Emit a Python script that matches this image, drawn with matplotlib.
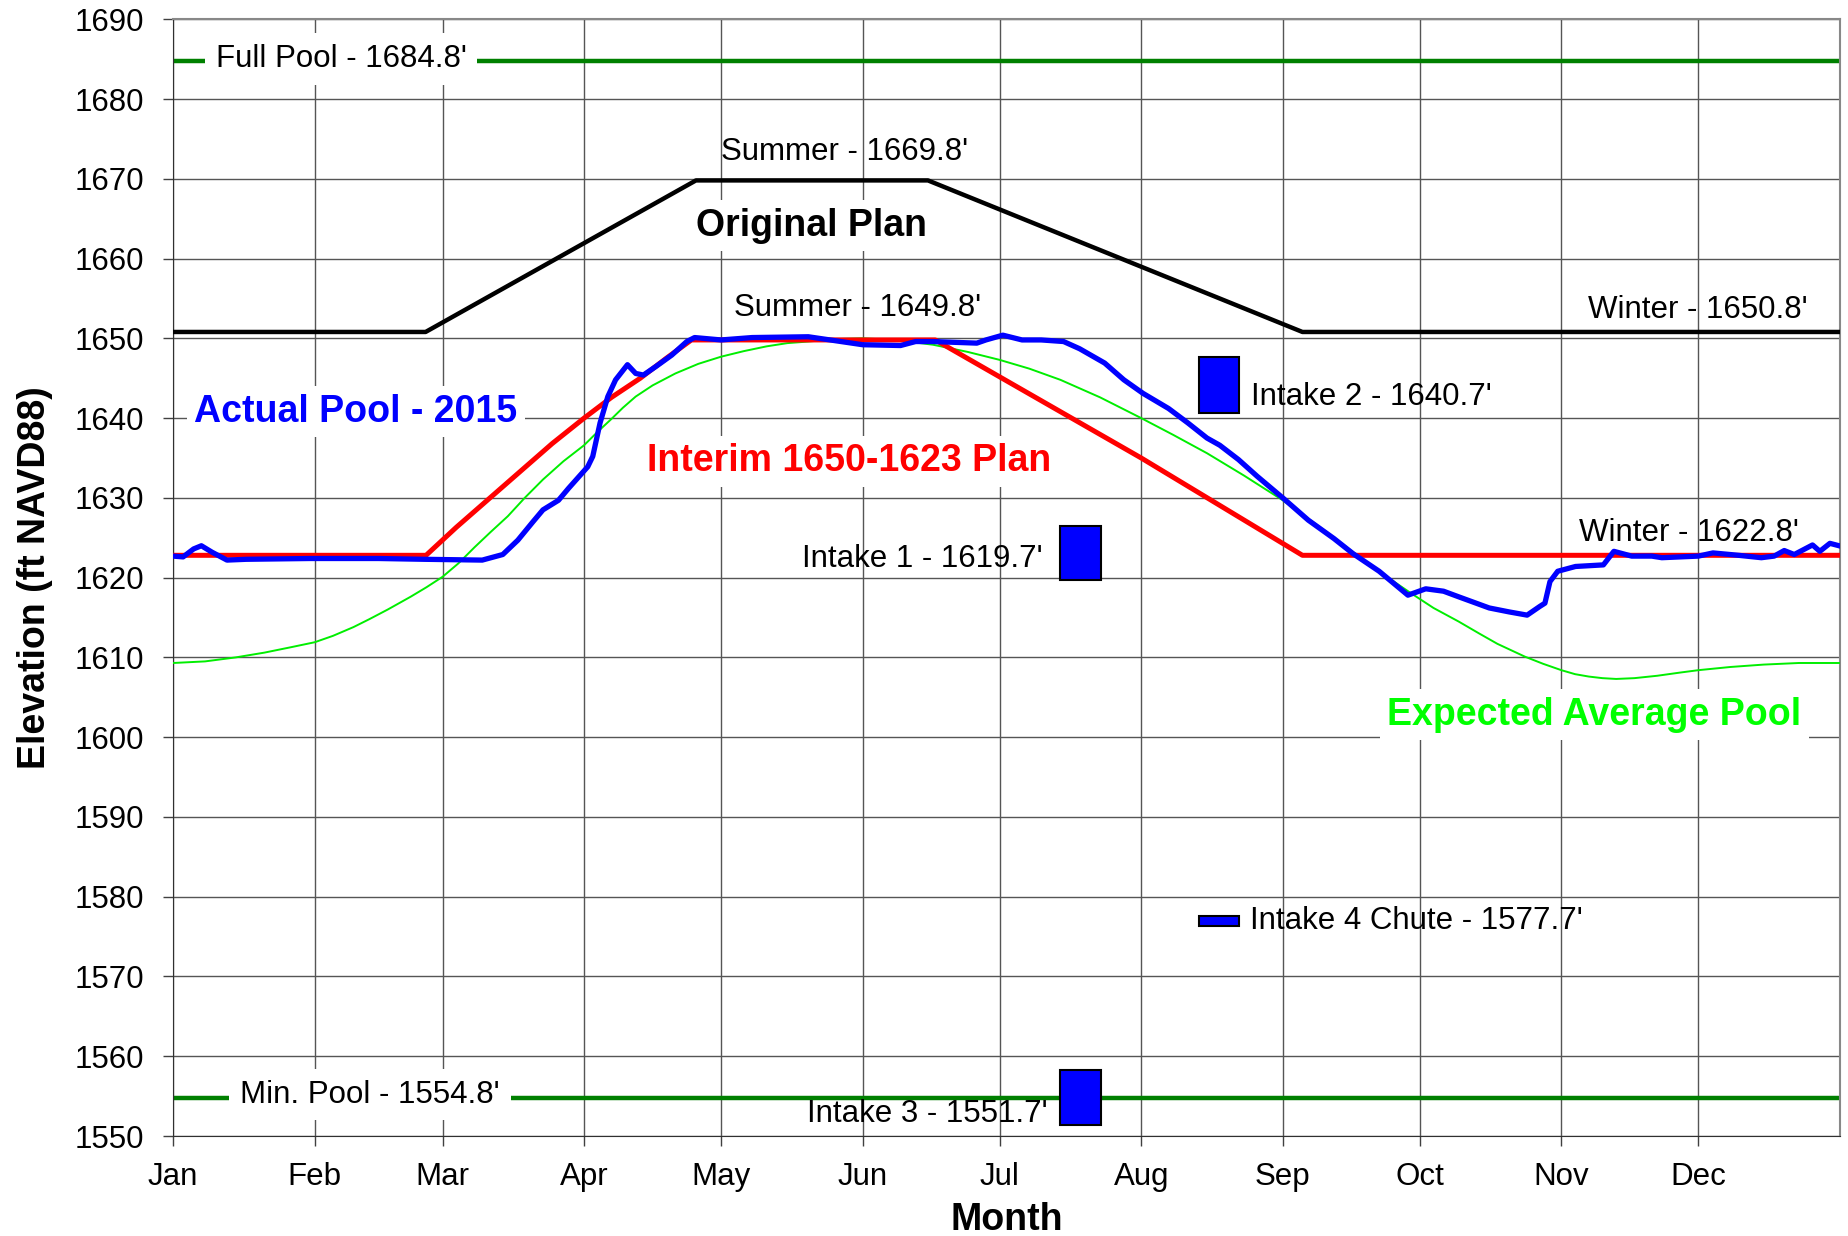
import matplotlib
matplotlib.use("Agg")
import matplotlib.pyplot as plt

plt.rcParams['font.family'] = ['Liberation Sans', 'DejaVu Sans']

# x axis is day of year
month_days = [0, 31, 59, 90, 120, 151, 181, 212, 243, 273, 304, 334]
month_names = ['Jan', 'Feb', 'Mar', 'Apr', 'May', 'Jun',
               'Jul', 'Aug', 'Sep', 'Oct', 'Nov', 'Dec']

full_pool = 1684.8
min_pool = 1554.8

# Original plan (black)
orig_day = [0, 55.3, 114.5, 165.3, 247.3, 365]
orig_elev = [1650.8, 1650.8, 1669.8, 1669.8, 1650.8, 1650.8]

# Interim 1650-1623 plan (red)
interim_day = [0, 55.4, 62, 68.8, 76, 83, 90, 96, 102.3, 108, 113.5, 166.9,
               212, 247.3, 365]
interim_elev = [1622.8, 1622.8, 1626.3, 1629.7, 1633.3, 1636.8, 1640.0,
                1642.6, 1645.0, 1647.5, 1649.8, 1649.8, 1635.0, 1622.8,
                1622.8]

# Expected average pool (light green)
exp_day = [0, 7, 13.7, 20, 26, 31, 35, 39.5, 43, 47, 52, 55.5, 59, 62.5, 66,
           69.5, 73.3, 77, 81, 85.5, 90, 93, 96, 98.5, 101.3, 105, 110, 115,
           120, 125, 130, 134.5, 139.1, 145, 151, 158, 166.4, 174, 181, 187.5,
           194.3, 203, 212, 219, 226.4, 234.5, 243, 250, 257, 264, 271.2,
           276, 281.5, 286, 290, 293, 296, 300, 304, 307, 310, 313, 316, 320,
           325, 330, 334, 341, 348.3, 356, 365]
exp_elev = [1609.3, 1609.5, 1610.0, 1610.6, 1611.3, 1611.9, 1612.7, 1613.8,
            1614.8, 1616.0, 1617.6, 1618.8, 1620.1, 1621.8, 1623.8, 1625.7,
            1627.7, 1630.0, 1632.3, 1634.6, 1636.6, 1638.3, 1639.9, 1641.3,
            1642.7, 1644.1, 1645.6, 1646.8, 1647.7, 1648.4, 1649.0, 1649.4,
            1649.6, 1649.9, 1650.0, 1649.8, 1649.2, 1648.3, 1647.3, 1646.2,
            1644.8, 1642.6, 1640.0, 1637.9, 1635.6, 1632.8, 1629.7, 1626.8,
            1623.8, 1620.8, 1618.0, 1616.2, 1614.5, 1613.0, 1611.7, 1610.9,
            1610.1, 1609.2, 1608.4, 1607.9, 1607.6, 1607.4, 1607.3, 1607.4,
            1607.7, 1608.1, 1608.4, 1608.8, 1609.1, 1609.3, 1609.3]

# Actual pool 2015 (blue)
act_day = [0, 2.2, 4.5, 6.2, 8.5, 11.8, 16, 30, 45, 55, 67.7, 72.2, 75.5,
           78.8, 81.0, 84.4, 86.6, 90.8, 91.9, 93.5, 95.2, 96.9, 99.5, 101.3,
           103.0, 105.8, 109.2, 112.5, 114.2, 120, 126.8, 139.1, 151, 159.3,
           162.6, 166.3, 176, 178, 181.7, 185.9, 190.1, 195, 198.5, 204,
           208.2, 212.4, 218, 222.2, 226.4, 229.2, 233.3, 237.4, 243, 248.6,
           254.2, 258.4, 264.1, 270.4, 274.3, 278.2, 281.5, 288.2, 292.6,
           296.5, 299.3, 300.4, 301.5, 303.2, 307.1, 313.2, 315.5, 319.4,
           323.8, 326, 334, 337.2, 342.8, 347.8, 350.6, 352.8, 355, 359,
           360.6, 362.8, 364.8]
act_elev = [1622.7, 1622.6, 1623.6, 1624.0, 1623.2, 1622.2, 1622.3, 1622.4,
            1622.4, 1622.3, 1622.2, 1622.9, 1624.7, 1627.0, 1628.5, 1629.7,
            1631.2, 1633.9, 1635.2, 1639.4, 1642.7, 1644.8, 1646.7, 1645.6,
            1645.4, 1646.5, 1647.9, 1649.6, 1650.1, 1649.8, 1650.1, 1650.2,
            1649.2, 1649.1, 1649.6, 1649.6, 1649.4, 1649.8, 1650.4, 1649.8,
            1649.8, 1649.6, 1648.7, 1646.9, 1644.8, 1643.1, 1641.2, 1639.4,
            1637.5, 1636.6, 1634.8, 1632.7, 1630.0, 1627.2, 1624.9, 1623.0,
            1620.8, 1617.8, 1618.6, 1618.3, 1617.6, 1616.2, 1615.7, 1615.3,
            1616.4, 1616.8, 1619.5, 1620.8, 1621.4, 1621.6, 1623.3, 1622.7,
            1622.7, 1622.5, 1622.7, 1623.1, 1622.8, 1622.5, 1622.7, 1623.4,
            1622.9, 1624.1, 1623.3, 1624.3, 1624.0]

# Intakes: [Intake 1, Intake 2, Intake 3, Intake 4 Chute]
intake_day = [198.75, 229.0, 198.75, 229.0]
intake_width = [8.9, 8.9, 8.9, 8.9]
intake_bottom = [1619.7, 1640.7, 1551.4, 1576.3]
intake_top = [1626.5, 1647.7, 1558.3, 1577.6]
intake_height = [t - b for t, b in zip(intake_top, intake_bottom)]

fig = plt.figure(figsize=(18.49, 12.36), dpi=100)
ax = fig.add_axes([0.0936, 0.0809, 0.9015, 0.9035])

ax.set_xlim(0, 365)
ax.set_ylim(1550, 1690)
ax.set_xticks(month_days)
ax.set_xticklabels(month_names)
ax.set_yticks(range(1550, 1691, 10))
ax.tick_params(axis='both', labelsize=22.5, length=7, width=1,
               direction='out', color='#404040')
ax.tick_params(axis='x', pad=12)
ax.tick_params(axis='y', pad=13.5)
ax.grid(True, color='#555555', linewidth=1.0, zorder=0)
ax.set_axisbelow(True)
for side in ['top', 'right']:
    ax.spines[side].set_color('#888888')
    ax.spines[side].set_linewidth(1.5)
ax.spines['left'].set_color('#303030')
ax.spines['bottom'].set_color('#303030')

ax.axhline(full_pool, color='#008000', linewidth=3.2, zorder=2)
ax.axhline(min_pool, color='#008000', linewidth=3.2, zorder=2)

ax.plot(exp_day, exp_elev, color='#00ee00', linewidth=1.4, zorder=3)
ax.plot(orig_day, orig_elev, color='black', linewidth=3.2, zorder=3)
ax.plot(interim_day, interim_elev, color='#ff0000', linewidth=3.6, zorder=4)
ax.plot(act_day, act_elev, color='#0000ff', linewidth=3.8, zorder=5)

ax.bar(intake_day, intake_height, width=intake_width, bottom=intake_bottom,
       color='#0000ff', edgecolor='black', linewidth=1.5, zorder=6)

box = dict(facecolor='white', edgecolor='none', boxstyle='square,pad=0.35')
box2 = dict(facecolor='white', edgecolor='none', boxstyle='square,pad=0.2')
fs = 22.5
fb = 27

ax.text(36.8, 1685.0, "Full Pool - 1684.8'", fontsize=fs, ha='center',
        va='center', bbox=box, zorder=7)
ax.text(43.1, 1555.2, "Min. Pool - 1554.8'", fontsize=fs, ha='center',
        va='center', bbox=box, zorder=7)
ax.text(147.1, 1673.4, "Summer - 1669.8'", fontsize=fs, ha='center',
        va='center', zorder=7)
ax.text(139.9, 1664.1, "Original Plan", fontsize=fb, fontweight='bold',
        ha='center', va='center', bbox=box2, zorder=7)
ax.text(149.9, 1653.8, "Summer - 1649.8'", fontsize=fs, ha='center',
        va='center', zorder=7)
ax.text(333.9, 1653.5, "Winter - 1650.8'", fontsize=fs, ha='center',
        va='center', zorder=7)
ax.text(40.0, 1640.8, "Actual Pool - 2015", fontsize=fb, fontweight='bold',
        color='#0000ff', ha='center', va='center', bbox=box2, zorder=7)
ax.text(148.1, 1634.6, "Interim 1650-1623 Plan", fontsize=fb,
        fontweight='bold', color='#ff0000', ha='center', va='center',
        bbox=box2, zorder=7)
ax.text(236.1, 1642.7, "Intake 2 - 1640.7'", fontsize=fs, ha='left',
        va='center', zorder=7)
ax.text(190.4, 1622.3, "Intake 1 - 1619.7'", fontsize=fs, ha='right',
        va='center', zorder=7)
ax.text(332.0, 1625.6, "Winter - 1622.8'", fontsize=fs, ha='center',
        va='center', zorder=7)
ax.text(311.2, 1602.8, "Expected Average Pool", fontsize=fb,
        fontweight='bold', color='#00ff00', ha='center', va='center',
        bbox=box2, zorder=7)
ax.text(235.9, 1577.0, "Intake 4 Chute - 1577.7'", fontsize=fs, ha='left',
        va='center', zorder=7)
ax.text(191.4, 1552.8, "Intake 3 - 1551.7'", fontsize=fs, ha='right',
        va='center', zorder=7)

ax.set_xlabel("Month", fontsize=fb, fontweight='bold', labelpad=7)
ax.set_ylabel("Elevation (ft NAVD88)", fontsize=fb, fontweight='bold',
              labelpad=16)

fig.savefig("out.png", dpi=100)
